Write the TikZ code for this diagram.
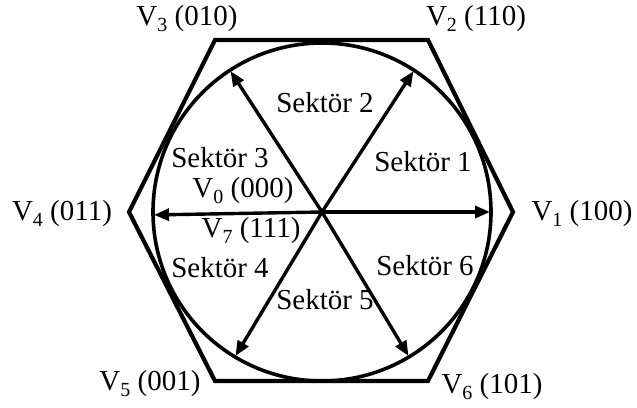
\documentclass[tikz,border=0pt]{standalone}
\usepackage{fontspec}
\setmainfont{Liberation Serif}
\usetikzlibrary{arrows.meta}
\newcommand{\vsub}[1]{\raisebox{-0.45ex}{\fontsize{20}{20}\selectfont #1}}
\begin{document}
\begin{tikzpicture}[x=1pt,y=-1pt,
  lbl/.style={font=\fontsize{29}{31}\selectfont, inner sep=0pt},
  vec/.style={line width=3.4pt, -{Triangle[length=15pt,width=12pt]}, shorten >=1pt},
  hexline/.style={line width=4.2pt, line join=miter},
  ring/.style={circle, draw, line width=3.6pt, minimum size=338pt, outer sep=0pt, inner sep=0pt}]
\useasboundingbox (0,0) rectangle (637,407);
% hexagon
\coordinate (H1) at (513,212);
\coordinate (H2) at (428,40);
\coordinate (H3) at (215,40);
\coordinate (H4) at (129,212);
\coordinate (H5) at (215,381);
\coordinate (H6) at (428,381);
\draw[hexline] (H1) -- (H2) -- (H3) -- (H4) -- (H5) -- (H6) -- cycle;
% circle
\coordinate (O) at (322,212);
\node[ring] (C) at (O) {};
% vectors
\draw[vec] (O) -- (C.0.5);
\draw[vec] (O) -- (C.57);
\draw[vec] (O) -- (C.123);
\draw[vec] (O) -- (C.181.5);
\draw[vec] (O) -- (C.239);
\draw[vec] (O) -- (C.301);
% vertex labels
\node[lbl] (v3) at (187,19) {V\vsub{3} (010)};
\node[lbl] (v2) at (476,19) {V\vsub{2} (110)};
\node[lbl] (v4) at (62,214) {V\vsub{4} (011)};
\node[lbl] (v1) at (582,214) {V\vsub{1} (100)};
\node[lbl] (v5) at (150,384) {V\vsub{5} (001)};
\node[lbl] (v6) at (492,387) {V\vsub{6} (101)};
\node[lbl] (v0) at (243,191) {V\vsub{0} (000)};
\node[lbl] (v7) at (251,231) {V\vsub{7} (111)};
% sector labels
\node[lbl] (s1) at (423,162) {Sektör 1};
\node[lbl] (s2) at (325,103) {Sektör 2};
\node[lbl] (s3) at (220,158) {Sektör 3};
\node[lbl] (s4) at (220,268) {Sektör 4};
\node[lbl] (s5) at (325,300) {Sektör 5};
\node[lbl] (s6) at (425,266) {Sektör 6};
\end{tikzpicture}
\end{document}
